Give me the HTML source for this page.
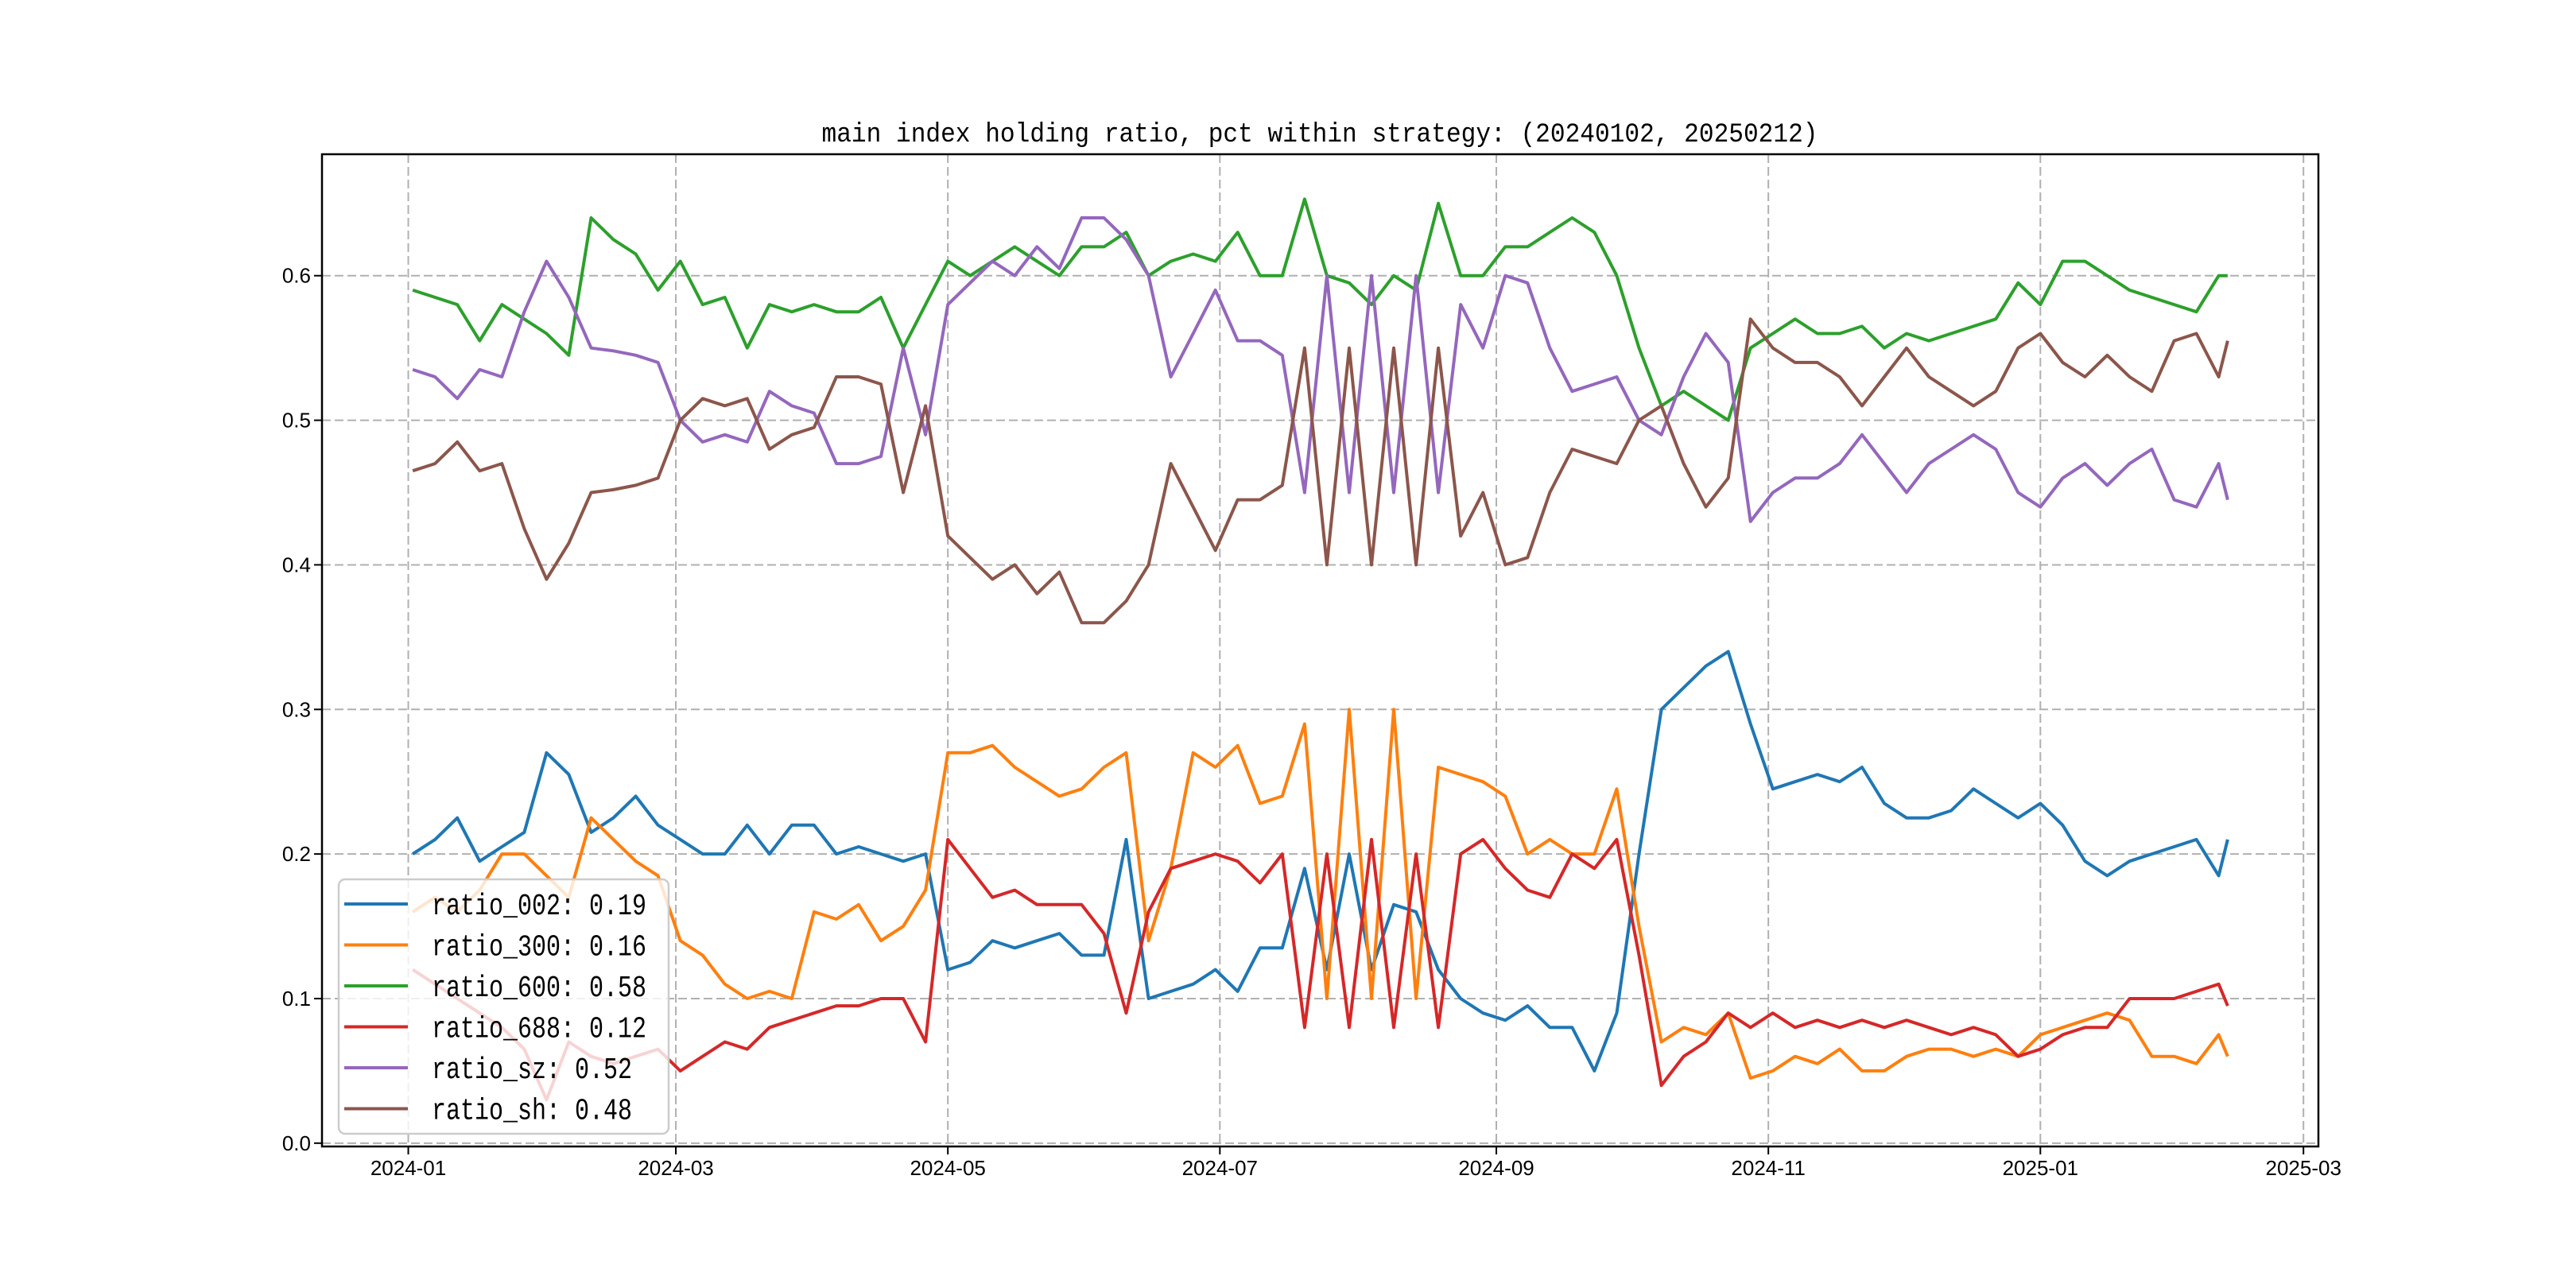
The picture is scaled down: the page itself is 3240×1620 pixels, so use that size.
<!DOCTYPE html>
<html><head><meta charset="utf-8"><style>
html,body{margin:0;padding:0;background:#fff;}
svg{display:block;}
text{font-family:"Liberation Mono","WenQuanYi Zen Hei",monospace;fill:#000;}
.tk{font-family:"Liberation Sans","WenQuanYi Zen Hei",sans-serif;}
</style></head><body>
<svg id="chart" width="3240" height="1620" viewBox="0 0 3240 1620" xmlns="http://www.w3.org/2000/svg">
<rect width="3240" height="1620" fill="#fff"/>
<text x="1660" y="178" text-anchor="middle" font-size="34" textLength="1253" lengthAdjust="spacingAndGlyphs">main index holding ratio, pct within strategy: (20240102, 20250212)</text>
<g id="grid"></g>
<g id="series"></g>
<rect x="405" y="194" width="2511" height="1248" fill="none" stroke="#000" stroke-width="2.5"/>
<g id="axes"></g>
<g id="legend"></g>
</svg>
<script>
const dates=[1,6,11,16,21,26,31,36,41,46,51,56,61,66,71,76,81,86,91,96,101,106,111,116,121,126,131,136,141,146,151,156,161,166,171,176,181,186,191,196,201,206,211,216,221,226,231,236,241,246,251,256,261,266,271,276,281,286,291,296,301,306,311,316,321,326,331,336,341,346,351,356,361,366,371,376,381,386,391,396,401,406,408];
const r002=[0.2,0.21,0.225,0.195,0.205,0.215,0.27,0.255,0.215,0.225,0.24,0.22,0.21,0.2,0.2,0.22,0.2,0.22,0.22,0.2,0.205,0.2,0.195,0.2,0.12,0.125,0.14,0.135,0.14,0.145,0.13,0.13,0.21,0.1,0.105,0.11,0.12,0.105,0.135,0.135,0.19,0.12,0.2,0.12,0.165,0.16,0.12,0.1,0.09,0.085,0.095,0.08,0.08,0.05,0.09,0.2,0.3,0.315,0.33,0.34,0.29,0.245,0.25,0.255,0.25,0.26,0.235,0.225,0.225,0.23,0.245,0.235,0.225,0.235,0.22,0.195,0.185,0.195,0.2,0.205,0.21,0.185,0.21];
const r300=[0.16,0.17,0.16,0.175,0.2,0.2,0.185,0.17,0.225,0.21,0.195,0.185,0.14,0.13,0.11,0.1,0.105,0.1,0.16,0.155,0.165,0.14,0.15,0.175,0.27,0.27,0.275,0.26,0.25,0.24,0.245,0.26,0.27,0.14,0.19,0.27,0.26,0.275,0.235,0.24,0.29,0.1,0.3,0.1,0.3,0.1,0.26,0.255,0.25,0.24,0.2,0.21,0.2,0.2,0.245,0.15,0.07,0.08,0.075,0.09,0.045,0.05,0.06,0.055,0.065,0.05,0.05,0.06,0.065,0.065,0.06,0.065,0.06,0.075,0.08,0.085,0.09,0.085,0.06,0.06,0.055,0.075,0.06];
const r600=[0.59,0.585,0.58,0.555,0.58,0.57,0.56,0.545,0.64,0.625,0.615,0.59,0.61,0.58,0.585,0.55,0.58,0.575,0.58,0.575,0.575,0.585,0.55,0.58,0.61,0.6,0.61,0.62,0.61,0.6,0.62,0.62,0.63,0.6,0.61,0.615,0.61,0.63,0.6,0.6,0.653,0.6,0.595,0.58,0.6,0.59,0.65,0.6,0.6,0.62,0.62,0.63,0.64,0.63,0.6,0.55,0.51,0.52,0.51,0.5,0.55,0.56,0.57,0.56,0.56,0.565,0.55,0.56,0.555,0.56,0.565,0.57,0.595,0.58,0.61,0.61,0.6,0.59,0.585,0.58,0.575,0.6,0.6];
const r688=[0.12,0.11,0.1,0.09,0.08,0.065,0.03,0.07,0.06,0.055,0.06,0.065,0.05,0.06,0.07,0.065,0.08,0.085,0.09,0.095,0.095,0.1,0.1,0.07,0.21,0.19,0.17,0.175,0.165,0.165,0.165,0.145,0.09,0.16,0.19,0.195,0.2,0.195,0.18,0.2,0.08,0.2,0.08,0.21,0.08,0.2,0.08,0.2,0.21,0.19,0.175,0.17,0.2,0.19,0.21,0.13,0.04,0.06,0.07,0.09,0.08,0.09,0.08,0.085,0.08,0.085,0.08,0.085,0.08,0.075,0.08,0.075,0.06,0.065,0.075,0.08,0.08,0.1,0.1,0.1,0.105,0.11,0.095];
const rsz=[0.535,0.53,0.515,0.535,0.53,0.575,0.61,0.585,0.55,0.548,0.545,0.54,0.5,0.485,0.49,0.485,0.52,0.51,0.505,0.47,0.47,0.475,0.55,0.49,0.58,0.595,0.61,0.6,0.62,0.605,0.64,0.64,0.625,0.6,0.53,0.56,0.59,0.555,0.555,0.545,0.45,0.6,0.45,0.6,0.45,0.6,0.45,0.58,0.55,0.6,0.595,0.55,0.52,0.525,0.53,0.5,0.49,0.53,0.56,0.54,0.43,0.45,0.46,0.46,0.47,0.49,0.47,0.45,0.47,0.48,0.49,0.48,0.45,0.44,0.46,0.47,0.455,0.47,0.48,0.445,0.44,0.47,0.445];
const rsh=[0.465,0.47,0.485,0.465,0.47,0.425,0.39,0.415,0.45,0.452,0.455,0.46,0.5,0.515,0.51,0.515,0.48,0.49,0.495,0.53,0.53,0.525,0.45,0.51,0.42,0.405,0.39,0.4,0.38,0.395,0.36,0.36,0.375,0.4,0.47,0.44,0.41,0.445,0.445,0.455,0.55,0.4,0.55,0.4,0.55,0.4,0.55,0.42,0.45,0.4,0.405,0.45,0.48,0.475,0.47,0.5,0.51,0.47,0.44,0.46,0.57,0.55,0.54,0.54,0.53,0.51,0.53,0.55,0.53,0.52,0.51,0.52,0.55,0.56,0.54,0.53,0.545,0.53,0.52,0.555,0.56,0.53,0.555];
const seriesNames=["ratio_002","ratio_300","ratio_600","ratio_688","ratio_sz","ratio_sh"];
const seriesLabels=["ratio_002: 0.19","ratio_300: 0.16","ratio_600: 0.58","ratio_688: 0.12","ratio_sz: 0.52","ratio_sh: 0.48"];
const yTicks=[0.0,0.1,0.2,0.3,0.4,0.5,0.6];
const yTickLabels=["0.0","0.1","0.2","0.3","0.4","0.5","0.6"];
const xTicks=[0,60,121,182,244,305,366,425];
const xTickLabels=["2024-01","2024-03","2024-05","2024-07","2024-09","2024-11","2025-01","2025-03"];

const NS="http://www.w3.org/2000/svg";
const L=405,R=2916,T=194,B=1442;
const xMin=-19.35,xMax=428.35,yMin=-0.0023,yMax=0.684;
function xs(d){return L+(d-xMin)/(xMax-xMin)*(R-L);}
function ys(v){return B-(v-yMin)/(yMax-yMin)*(B-T);}
function mk(tag,attrs,parent){const e=document.createElementNS(NS,tag);for(const k in attrs)e.setAttribute(k,attrs[k]);parent.appendChild(e);return e;}
const colors=["#1f77b4","#ff7f0e","#2ca02c","#d62728","#9467bd","#8c564b"];
const data=[r002,r300,r600,r688,rsz,rsh];
const grid=document.getElementById('grid'),axes=document.getElementById('axes'),ser=document.getElementById('series'),leg=document.getElementById('legend');
yTicks.forEach((v,i)=>{
  const y=ys(v);
  const g=mk('line',{x1:L,x2:R,y1:y,y2:y,stroke:'#b0b0b0','stroke-width':2,'stroke-dasharray':'11,5'},grid);
  
  
  const t=mk('line',{x1:L-10,x2:L,y1:y,y2:y,stroke:'#000','stroke-width':2},axes);
  
  
  const lb=mk('text',{x:L-14,y:y+9,'text-anchor':'end','font-size':26,'class':'tk'},axes);
  lb.textContent=yTickLabels[i];
  
  
});
xTicks.forEach((d,i)=>{
  const x=xs(d);
  const g=mk('line',{x1:x,x2:x,y1:T,y2:B,stroke:'#b0b0b0','stroke-width':2,'stroke-dasharray':'11,5'},grid);
  
  
  const t=mk('line',{x1:x,x2:x,y1:B,y2:B+10,stroke:'#000','stroke-width':2},axes);
  
  
  const lb=mk('text',{x:x,y:B+36,'text-anchor':'middle','font-size':26,'class':'tk'},axes);
  lb.textContent=xTickLabels[i];
  
  
});
data.forEach((arr,si)=>{
  const n=Math.min(arr.length,dates.length);
  let p='';
  for(let i=0;i<n;i++)p+=(i?'L':'M')+xs(dates[i]).toFixed(1)+','+ys(arr[i]).toFixed(1);
  const path=mk('path',{d:p,fill:'none',stroke:colors[si],'stroke-width':4,'stroke-linejoin':'round'},ser);
  
  
});
const box=mk('rect',{x:426,y:1106,width:415,height:320,rx:8,fill:'#fff','fill-opacity':0.8,stroke:'#cccccc','stroke-width':2.5},leg);


seriesLabels.forEach((s,i)=>{
  const y=1137+i*51.5;
  const ln=mk('line',{x1:433,x2:513,y1:y,y2:y,stroke:colors[i],'stroke-width':4},leg);
  
  
  const tx=mk('text',{x:543,y:y+13,'font-size':38,textLength:(s.length*18),lengthAdjust:'spacingAndGlyphs'},leg);
  tx.textContent=s;
  
  
});
</script>
</body></html>
